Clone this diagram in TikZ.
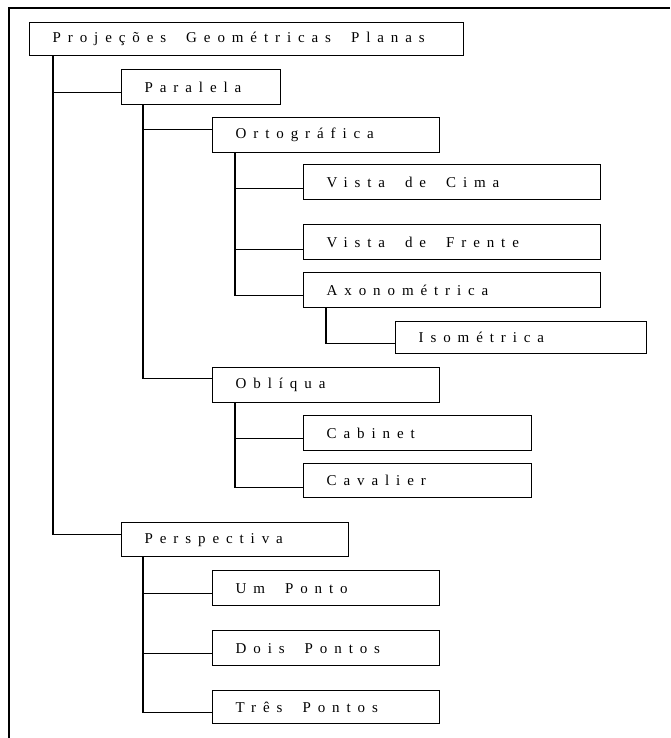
\documentclass[tikz,border=0pt]{standalone}
\usepackage{fontspec}
\setmainfont{Liberation Serif}[LetterSpace=46]
\newcommand\ws{\kern 20pt\relax}
\begin{document}
\begin{tikzpicture}[x=1pt,y=-1pt,
  bx/.style={draw=black, line width=1.4pt, anchor=north west, minimum height=34pt,
    inner xsep=23pt, inner ysep=0pt, align=left, font=\fontsize{15}{17}\selectfont},
  ln/.style={draw=black, line width=1.3pt}]
\useasboundingbox (0,0) rectangle (670,738);
\coordinate (fbl) at (9,738);
\coordinate (ftl) at (9,8);
\coordinate (ftr) at (670,8);
\draw[ln] (fbl) -- (ftl) -- (ftr);

\node[bx, text width=388pt, minimum height=33pt] (root) at (29,22) {Projeções\ws Geométricas\ws Planas};
\node[bx, text width=113pt, minimum height=35pt] (par) at (121,69) {Paralela};
\node[bx, text width=181pt, minimum height=35pt] (orto) at (212,117) {Ortográfica};
\node[bx, text width=251pt, minimum height=35pt] (cima) at (303,164) {Vista\ws de\ws Cima};
\node[bx, text width=251pt, minimum height=35pt] (frente) at (303,224) {Vista\ws de\ws Frente};
\node[bx, text width=251pt, minimum height=35pt] (axo) at (303,272) {Axonométrica};
\node[bx, text width=205pt, minimum height=32pt] (iso) at (395,321) {Isométrica};
\node[bx, text width=181pt, minimum height=35pt] (obl) at (212,367) {Oblíqua};
\node[bx, text width=182pt, minimum height=35pt] (cab) at (303,415) {Cabinet};
\node[bx, text width=182pt, minimum height=34pt] (cav) at (303,463) {Cavalier};
\node[bx, text width=181pt, minimum height=34pt] (persp) at (121,522) {Perspectiva};
\node[bx, text width=181pt, minimum height=35pt] (um) at (212,570) {Um\ws Ponto};
\node[bx, text width=181pt, minimum height=35pt] (dois) at (212,630) {Dois\ws Pontos};
\node[bx, text width=181pt, minimum height=33pt] (tres) at (212,690) {Três\ws Pontos};

\draw[ln] (root.south west) ++(24,0) |- ([yshift=-5.5pt]par.west);
\draw[ln] (root.south west) ++(24,0) |- ([yshift=5pt]persp.west);
\draw[ln] (par.south west) ++(22,0) |- ([yshift=5.5pt]orto.west);
\draw[ln] (par.south west) ++(22,0) |- ([yshift=6.5pt]obl.west);
\draw[ln] (orto.south west) ++(23,0) |- ([yshift=-6.5pt]cima.west);
\draw[ln] (orto.south west) ++(23,0) |- ([yshift=-7.5pt]frente.west);
\draw[ln] (orto.south west) ++(23,0) |- ([yshift=-5.5pt]axo.west);
\draw[ln] (axo.south west) ++(23,0) |- ([yshift=-6pt]iso.west);
\draw[ln] (obl.south west) ++(23,0) |- ([yshift=-5.5pt]cab.west);
\draw[ln] (obl.south west) ++(23,0) |- ([yshift=-7pt]cav.west);
\draw[ln] (persp.south west) ++(22,0) |- ([yshift=-5.5pt]um.west);
\draw[ln] (persp.south west) ++(22,0) |- ([yshift=-5.5pt]dois.west);
\draw[ln] (persp.south west) ++(22,0) |- ([yshift=-5.5pt]tres.west);
\end{tikzpicture}
\end{document}
